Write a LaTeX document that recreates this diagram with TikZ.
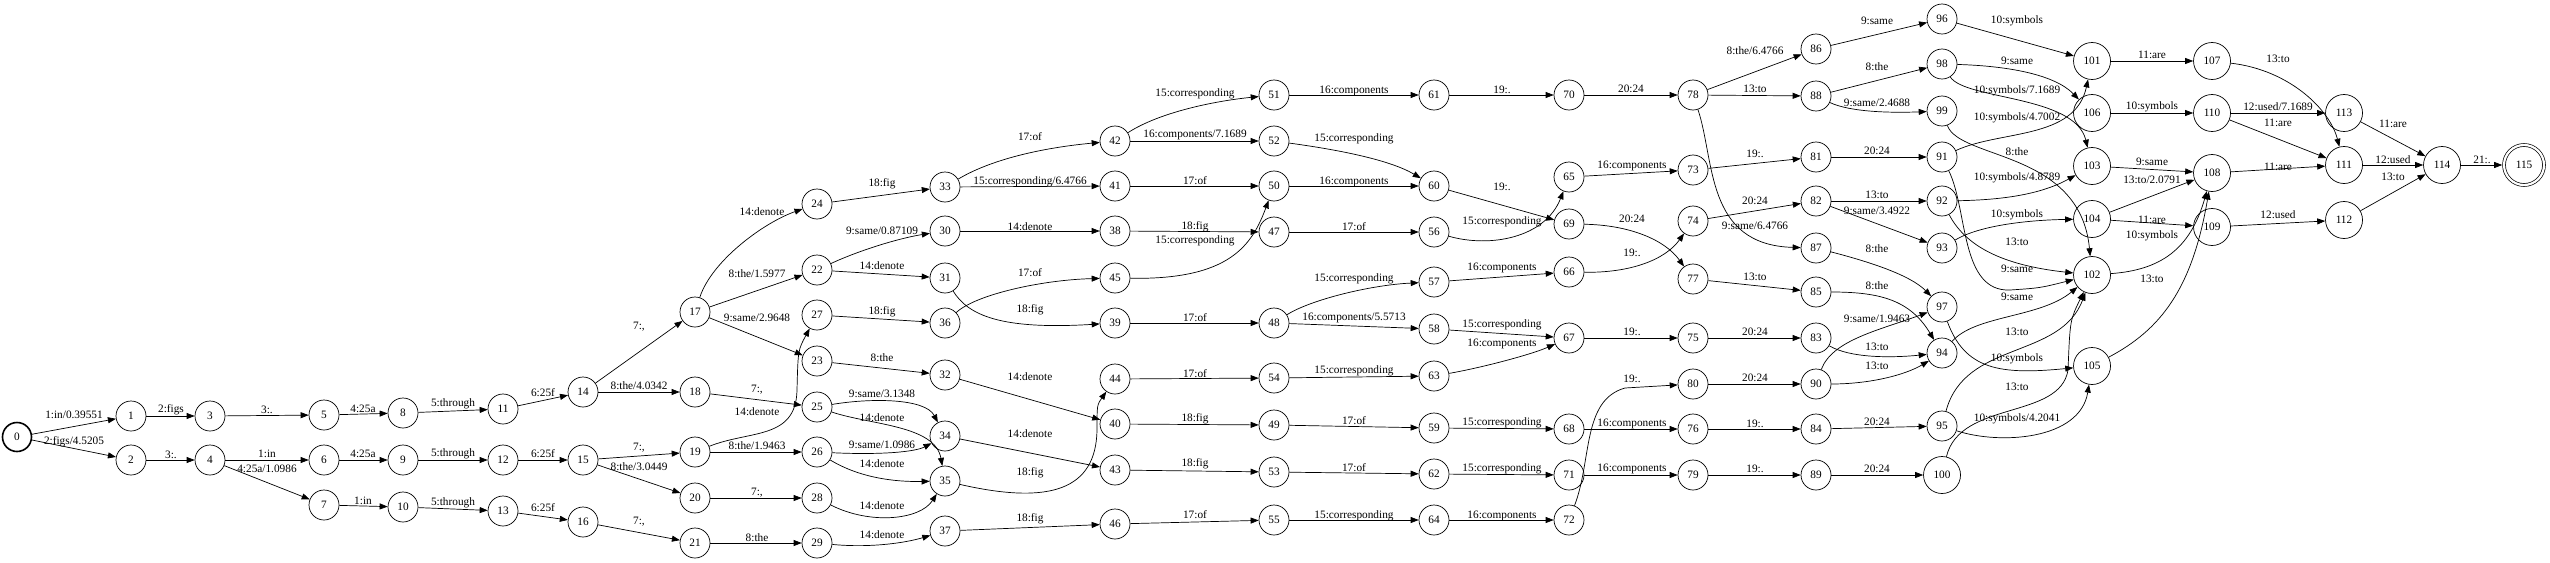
\documentclass[tikz,border=0pt]{standalone}
\usepackage{fontspec}
\setmainfont{Liberation Serif}
\usetikzlibrary{arrows.meta}

\begin{document}
\begin{tikzpicture}[x=1pt, y=-1pt,
  every node/.style={font=\fontsize{11.3}{13}\selectfont},
  state/.style={circle, draw, line width=0.7pt, minimum size=30pt, inner sep=0pt},
  big/.style={state, minimum size=37pt},
  start/.style={state, line width=1.6pt, minimum size=29pt},
  final/.style={state, minimum size=40pt, double, double distance=2.2pt, outer sep=1.8pt},
  lbl/.style={inner sep=0pt},
  arrow/.style={-{Triangle[length=8pt,width=6pt]}, line width=0.7pt}]

\useasboundingbox (0,0) rectangle (2550,562);

% Estados
\node[start] (n0) at (17,437) {0};
\node[state] (n1) at (131,416) {1};
\node[state] (n2) at (131,460) {2};
\node[state] (n3) at (210,416) {3};
\node[state] (n4) at (210,460) {4};
\node[state] (n5) at (324,415) {5};
\node[state] (n6) at (324,460) {6};
\node[state] (n7) at (324,505) {7};
\node[state] (n8) at (403,413) {8};
\node[state] (n9) at (403,460) {9};
\node[state] (n10) at (403,507) {10};
\node[state] (n11) at (503,409) {11};
\node[state] (n12) at (503,460) {12};
\node[state] (n13) at (503,511) {13};
\node[state] (n14) at (583,392) {14};
\node[state] (n15) at (583,460) {15};
\node[state] (n16) at (583,522) {16};
\node[state] (n17) at (695,312) {17};
\node[state] (n18) at (695,392) {18};
\node[state] (n19) at (695,452) {19};
\node[state] (n20) at (695,498) {20};
\node[state] (n21) at (695,543) {21};
\node[state] (n24) at (817,204) {24};
\node[state] (n22) at (817,270) {22};
\node[state] (n27) at (817,315) {27};
\node[state] (n23) at (817,361) {23};
\node[state] (n25) at (817,407) {25};
\node[state] (n26) at (817,452) {26};
\node[state] (n28) at (817,498) {28};
\node[state] (n29) at (817,543) {29};
\node[state] (n33) at (945,187) {33};
\node[state] (n30) at (945,231) {30};
\node[state] (n31) at (945,278) {31};
\node[state] (n36) at (945,323) {36};
\node[state] (n32) at (945,375) {32};
\node[state] (n34) at (945,436) {34};
\node[state] (n35) at (945,481) {35};
\node[state] (n37) at (945,531) {37};
\node[state] (n42) at (1115,141) {42};
\node[state] (n41) at (1115,186) {41};
\node[state] (n38) at (1115,231) {38};
\node[state] (n45) at (1115,278) {45};
\node[state] (n39) at (1115,323) {39};
\node[state] (n44) at (1115,379) {44};
\node[state] (n40) at (1115,424) {40};
\node[state] (n43) at (1115,470) {43};
\node[state] (n46) at (1115,524) {46};
\node[state] (n51) at (1274,95) {51};
\node[state] (n52) at (1274,141) {52};
\node[state] (n50) at (1274,186) {50};
\node[state] (n47) at (1274,232) {47};
\node[state] (n48) at (1274,323) {48};
\node[state] (n54) at (1274,378) {54};
\node[state] (n49) at (1274,425) {49};
\node[state] (n53) at (1274,472) {53};
\node[state] (n55) at (1274,520) {55};
\node[state] (n61) at (1434,95) {61};
\node[state] (n60) at (1434,186) {60};
\node[state] (n56) at (1434,232) {56};
\node[state] (n57) at (1434,282) {57};
\node[state] (n58) at (1434,329) {58};
\node[state] (n63) at (1434,376) {63};
\node[state] (n59) at (1434,428) {59};
\node[state] (n62) at (1434,474) {62};
\node[state] (n64) at (1434,520) {64};
\node[state] (n70) at (1569,95) {70};
\node[state] (n65) at (1569,177) {65};
\node[state] (n69) at (1569,224) {69};
\node[state] (n66) at (1569,272) {66};
\node[state] (n67) at (1569,338) {67};
\node[state] (n68) at (1569,429) {68};
\node[state] (n71) at (1569,475) {71};
\node[state] (n72) at (1569,520) {72};
\node[state] (n78) at (1693,95) {78};
\node[state] (n73) at (1693,170) {73};
\node[state] (n74) at (1693,221) {74};
\node[state] (n77) at (1693,279) {77};
\node[state] (n75) at (1693,338) {75};
\node[state] (n80) at (1693,384) {80};
\node[state] (n76) at (1693,429) {76};
\node[state] (n79) at (1693,475) {79};
\node[state] (n86) at (1816,49) {86};
\node[state] (n88) at (1816,96) {88};
\node[state] (n81) at (1816,157) {81};
\node[state] (n82) at (1816,201) {82};
\node[state] (n87) at (1816,248) {87};
\node[state] (n85) at (1816,292) {85};
\node[state] (n83) at (1816,338) {83};
\node[state] (n90) at (1816,384) {90};
\node[state] (n84) at (1816,429) {84};
\node[state] (n89) at (1816,475) {89};
\node[state] (n96) at (1942,19) {96};
\node[state] (n98) at (1942,64) {98};
\node[state] (n99) at (1942,111) {99};
\node[state] (n91) at (1942,157) {91};
\node[state] (n92) at (1942,201) {92};
\node[state] (n93) at (1942,248) {93};
\node[state] (n97) at (1942,307) {97};
\node[state] (n94) at (1942,353) {94};
\node[state] (n95) at (1942,426) {95};
\node[big] (n100) at (1942,475) {100};
\node[big] (n101) at (2092,61) {101};
\node[big] (n106) at (2092,113) {106};
\node[big] (n103) at (2092,166) {103};
\node[big] (n104) at (2092,219) {104};
\node[big] (n102) at (2092,275) {102};
\node[big] (n105) at (2092,366) {105};
\node[big] (n107) at (2212,61) {107};
\node[big] (n110) at (2212,113) {110};
\node[big] (n108) at (2212,173) {108};
\node[big] (n109) at (2212,227) {109};
\node[big] (n113) at (2344,113) {113};
\node[big] (n111) at (2344,165) {111};
\node[big] (n112) at (2344,220) {112};
\node[big] (n114) at (2442,165) {114};
\node[final] (n115) at (2524,165) {115};

% Arcos 0--21
\draw[arrow] (n0) -- (n1) node[lbl] at (74,415) {1:in/0.39551};
\draw[arrow] (n0) -- (n2) node[lbl] at (74,442) {2:figs/4.5205};
\draw[arrow] (n1) -- (n3) node[lbl] at (171,410) {2:figs};
\draw[arrow] (n2) -- (n4) node[lbl] at (171,455) {3:.};
\draw[arrow] (n3) -- (n5) node[lbl] at (267,410) {3:.};
\draw[arrow] (n4) -- (n6) node[lbl] at (267,454) {1:in};
\draw[arrow] (n4) -- (n7) node[lbl] at (267,469) {4:25a/1.0986};
\draw[arrow] (n5) -- (n8) node[lbl] at (363,409) {4:25a};
\draw[arrow] (n6) -- (n9) node[lbl] at (363,454) {4:25a};
\draw[arrow] (n7) -- (n10) node[lbl] at (363,501) {1:in};
\draw[arrow] (n8) -- (n11) node[lbl] at (453,404) {5:through};
\draw[arrow] (n9) -- (n12) node[lbl] at (453,454) {5:through};
\draw[arrow] (n10) -- (n13) node[lbl] at (453,503) {5:through};
\draw[arrow] (n11) -- (n14) node[lbl] at (543,393) {6:25f};
\draw[arrow] (n12) -- (n15) node[lbl] at (543,454) {6:25f};
\draw[arrow] (n13) -- (n16) node[lbl] at (543,508) {6:25f};
\draw[arrow] (n14) -- (n17) node[lbl] at (639,327) {7:,};
\draw[arrow] (n14) -- (n18) node[lbl] at (639,386) {8:the/4.0342};
\draw[arrow] (n15) -- (n19) node[lbl] at (639,448) {7:,};
\draw[arrow] (n15) -- (n20) node[lbl] at (639,467) {8:the/3.0449};
\draw[arrow] (n16) -- (n21) node[lbl] at (639,522) {7:,};

% Arcos 17--29
\draw[arrow] (n17) .. controls (712,260) and (765,222) .. (n24) node[lbl] at (762,212) {14:denote};
\draw[arrow] (n17) -- (n22) node[lbl] at (757,274) {8:the/1.5977};
\draw[arrow] (n17) -- (n23) node[lbl] at (757,318) {9:same/2.9648};
\draw[arrow] (n18) -- (n25) node[lbl] at (757,390) {7:,};
\draw[arrow] (n19) .. controls (750,430) and (796,440) .. (797,390) .. controls (798,350) .. (n27) node[lbl] at (757,412) {14:denote};
\draw[arrow] (n19) -- (n26) node[lbl] at (757,446) {8:the/1.9463};
\draw[arrow] (n20) -- (n28) node[lbl] at (757,493) {7:,};
\draw[arrow] (n21) -- (n29) node[lbl] at (757,538) {8:the};

% Arcos 22--37
\draw[arrow] (n24) -- (n33) node[lbl] at (882,184) {18:fig};
\draw[arrow] (n22) .. controls (860,250) and (900,238) .. (n30) node[lbl] at (882,231) {9:same/0.87109};
\draw[arrow] (n22) -- (n31) node[lbl] at (882,266) {14:denote};
\draw[arrow] (n27) -- (n36) node[lbl] at (882,312) {18:fig};
\draw[arrow] (n23) -- (n32) node[lbl] at (882,358) {8:the};
\draw[arrow] (n25) .. controls (870,398) and (925,398) .. (n34) node[lbl] at (882,394) {9:same/3.1348};
\draw[arrow] (n25) .. controls (870,425) and (935,425) .. (n35) node[lbl] at (882,418) {14:denote};
\draw[arrow] (n26) .. controls (880,455) and (915,452) .. (n34) node[lbl] at (882,445) {9:same/1.0986};
\draw[arrow] (n26) .. controls (860,478) and (895,482) .. (n35) node[lbl] at (882,464) {14:denote};
\draw[arrow] (n28) .. controls (870,525) and (920,520) .. (n35) node[lbl] at (882,506) {14:denote};
\draw[arrow] (n29) .. controls (870,548) and (905,543) .. (n37) node[lbl] at (882,535) {14:denote};

% Arcos 30--46
\draw[arrow] (n33) .. controls (990,160) and (1040,148) .. (n42) node[lbl] at (1030,137) {17:of};
\draw[arrow] (n33) -- (n41) node[lbl] at (1030,182) {15:corresponding/6.4766};
\draw[arrow] (n30) -- (n38) node[lbl] at (1030,227) {14:denote};
\draw[arrow] (n36) .. controls (975,295) and (1040,280) .. (n45) node[lbl] at (1030,273) {17:of};
\draw[arrow] (n31) .. controls (968,315) and (1000,330) .. (n39) node[lbl] at (1030,310) {18:fig};
\draw[arrow] (n32) -- (n40) node[lbl] at (1030,377) {14:denote};
\draw[arrow] (n34) -- (n43) node[lbl] at (1030,434) {14:denote};
\draw[arrow] (n35) .. controls (1050,505) and (1096,490) .. (1097,430) .. controls (1097,405) .. (n44) node[lbl] at (1030,473) {18:fig};
\draw[arrow] (n37) -- (n46) node[lbl] at (1030,519) {18:fig};

% Arcos 38--55
\draw[arrow] (n42) .. controls (1160,112) and (1215,101) .. (n51) node[lbl] at (1195,94) {15:corresponding};
\draw[arrow] (n42) -- (n52) node[lbl] at (1195,135) {16:components/7.1689};
\draw[arrow] (n41) -- (n50) node[lbl] at (1195,181) {17:of};
\draw[arrow] (n38) -- (n47) node[lbl] at (1195,227) {18:fig};
\draw[arrow] (n45) .. controls (1230,280) and (1252,245) .. (n50) node[lbl] at (1195,241) {15:corresponding};
\draw[arrow] (n39) -- (n48) node[lbl] at (1195,318) {17:of};
\draw[arrow] (n44) -- (n54) node[lbl] at (1195,374) {17:of};
\draw[arrow] (n40) -- (n49) node[lbl] at (1195,419) {18:fig};
\draw[arrow] (n43) -- (n53) node[lbl] at (1195,464) {18:fig};
\draw[arrow] (n46) -- (n55) node[lbl] at (1195,515) {17:of};

% Arcos 47--64
\draw[arrow] (n51) -- (n61) node[lbl] at (1354,91) {16:components};
\draw[arrow] (n52) .. controls (1340,150) and (1390,160) .. (n60) node[lbl] at (1354,139) {15:corresponding};
\draw[arrow] (n50) -- (n60) node[lbl] at (1354,182) {16:components};
\draw[arrow] (n47) -- (n56) node[lbl] at (1354,227) {17:of};
\draw[arrow] (n48) .. controls (1310,300) and (1370,285) .. (n57) node[lbl] at (1354,279) {15:corresponding};
\draw[arrow] (n48) -- (n58) node[lbl] at (1354,318) {16:components/5.5713};
\draw[arrow] (n54) -- (n63) node[lbl] at (1354,371) {15:corresponding};
\draw[arrow] (n49) -- (n59) node[lbl] at (1354,421) {17:of};
\draw[arrow] (n53) -- (n62) node[lbl] at (1354,468) {17:of};
\draw[arrow] (n55) -- (n64) node[lbl] at (1354,516) {15:corresponding};

% Arcos 56--72
\draw[arrow] (n61) -- (n70) node[lbl] at (1502,90) {19:.};
\draw[arrow] (n60) -- (n69) node[lbl] at (1502,187) {19:.};
\draw[arrow] (n56) .. controls (1490,248) and (1545,238) .. (n65) node[lbl] at (1502,222) {15:corresponding};
\draw[arrow] (n57) -- (n66) node[lbl] at (1502,268) {16:components};
\draw[arrow] (n58) -- (n67) node[lbl] at (1502,325) {15:corresponding};
\draw[arrow] (n63) .. controls (1480,368) and (1530,355) .. (n67) node[lbl] at (1502,344) {16:components};
\draw[arrow] (n59) -- (n68) node[lbl] at (1502,423) {15:corresponding};
\draw[arrow] (n62) -- (n71) node[lbl] at (1502,469) {15:corresponding};
\draw[arrow] (n64) -- (n72) node[lbl] at (1502,516) {16:components};

% Arcos 65--80
\draw[arrow] (n70) -- (n78) node[lbl] at (1631,89) {20:24};
\draw[arrow] (n65) -- (n73) node[lbl] at (1632,166) {16:components};
\draw[arrow] (n69) .. controls (1630,225) and (1665,240) .. (n77) node[lbl] at (1632,219) {20:24};
\draw[arrow] (n66) .. controls (1630,273) and (1665,260) .. (n74) node[lbl] at (1632,253) {19:.};
\draw[arrow] (n67) -- (n75) node[lbl] at (1632,332) {19:.};
\draw[arrow] (n72) .. controls (1592,460) and (1582,400) .. (1625,388) -- (n80) node[lbl] at (1632,379) {19:.};
\draw[arrow] (n68) -- (n76) node[lbl] at (1632,424) {16:components};
\draw[arrow] (n71) -- (n79) node[lbl] at (1632,469) {16:components};

% Arcos 73--90
\draw[arrow] (n78) -- (n86) node[lbl] at (1755,51) {8:the/6.4766};
\draw[arrow] (n78) -- (n88) node[lbl] at (1755,89) {13:to};
\draw[arrow] (n78) .. controls (1715,160) and (1705,245) .. (n87) node[lbl] at (1755,226) {9:same/6.4766};
\draw[arrow] (n73) -- (n81) node[lbl] at (1755,154) {19:.};
\draw[arrow] (n74) -- (n82) node[lbl] at (1755,201) {20:24};
\draw[arrow] (n77) -- (n85) node[lbl] at (1755,277) {13:to};
\draw[arrow] (n75) -- (n83) node[lbl] at (1755,332) {20:24};
\draw[arrow] (n80) -- (n90) node[lbl] at (1755,378) {20:24};
\draw[arrow] (n76) -- (n84) node[lbl] at (1755,424) {19:.};
\draw[arrow] (n79) -- (n89) node[lbl] at (1755,469) {19:.};

% Arcos 81--100
\draw[arrow] (n86) -- (n96) node[lbl] at (1877,21) {9:same};
\draw[arrow] (n88) -- (n98) node[lbl] at (1877,67) {8:the};
\draw[arrow] (n88) .. controls (1850,112) and (1890,113) .. (n99) node[lbl] at (1877,103) {9:same/2.4688};
\draw[arrow] (n81) -- (n91) node[lbl] at (1877,151) {20:24};
\draw[arrow] (n82) -- (n92) node[lbl] at (1877,195) {13:to};
\draw[arrow] (n82) -- (n93) node[lbl] at (1877,211) {9:same/3.4922};
\draw[arrow] (n87) .. controls (1870,262) and (1910,275) .. (n97) node[lbl] at (1877,249) {8:the};
\draw[arrow] (n85) .. controls (1880,292) and (1910,300) .. (n94) node[lbl] at (1877,286) {8:the};
\draw[arrow] (n90) .. controls (1832,340) and (1880,330) .. (n97) node[lbl] at (1877,319) {9:same/1.9463};
\draw[arrow] (n83) .. controls (1850,358) and (1890,358) .. (n94) node[lbl] at (1877,347) {13:to};
\draw[arrow] (n90) .. controls (1870,384) and (1905,375) .. (n94) node[lbl] at (1877,366) {13:to};
\draw[arrow] (n84) -- (n95) node[lbl] at (1877,422) {20:24};
\draw[arrow] (n89) -- (n100) node[lbl] at (1877,469) {20:24};

% Arcos 91--106
\draw[arrow] (n96) -- (n101) node[lbl] at (2017,21) {10:symbols};
\draw[arrow] (n98) .. controls (2010,66) and (2055,75) .. (n106) node[lbl] at (2017,61) {9:same};
\draw[arrow] (n98) .. controls (1965,100) and (2075,95) .. (n103) node[lbl] at (2017,91) {10:symbols/7.1689};
\draw[arrow] (n91) .. controls (2000,130) and (2075,140) .. (n101) node[lbl] at (2017,118) {10:symbols/4.7002};
\draw[arrow] (n99) .. controls (1960,160) and (2080,150) .. (n102) node[lbl] at (2017,152) {8:the};
\draw[arrow] (n92) .. controls (2000,200) and (2040,195) .. (n103) node[lbl] at (2017,178) {10:symbols/4.8789};
\draw[arrow] (n93) .. controls (1980,225) and (2030,220) .. (n104) node[lbl] at (2017,215) {10:symbols};
\draw[arrow] (n92) .. controls (1965,245) and (2000,265) .. (n102) node[lbl] at (2017,242) {13:to};
\draw[arrow] (n91) .. controls (1968,210) and (1960,292) .. (2010,290) .. controls (2040,288) .. (n102) node[lbl] at (2017,269) {9:same};
\draw[arrow] (n94) .. controls (1975,315) and (2040,318) .. (n102) node[lbl] at (2017,297) {9:same};
\draw[arrow] (n95) .. controls (1965,340) and (2060,360) .. (n102) node[lbl] at (2017,332) {13:to};
\draw[arrow] (n97) .. controls (1965,370) and (2000,375) .. (n105) node[lbl] at (2017,359) {10:symbols};
\draw[arrow] (n100) .. controls (1960,400) and (2060,420) .. (2068,370) .. controls (2070,320) .. (n102) node[lbl] at (2017,387) {13:to};
\draw[arrow] (n95) .. controls (2000,445) and (2080,440) .. (n105) node[lbl] at (2017,419) {10:symbols/4.2041};

% Arcos 101--115
\draw[arrow] (n101) -- (n107) node[lbl] at (2152,55) {11:are};
\draw[arrow] (n106) -- (n110) node[lbl] at (2152,107) {10:symbols};
\draw[arrow] (n103) -- (n108) node[lbl] at (2152,162) {9:same};
\draw[arrow] (n104) -- (n108) node[lbl] at (2152,180) {13:to/2.0791};
\draw[arrow] (n104) -- (n109) node[lbl] at (2152,220) {11:are};
\draw[arrow] (n102) .. controls (2160,270) and (2190,250) .. (n108) node[lbl] at (2152,236) {10:symbols};
\draw[arrow] (n105) .. controls (2160,330) and (2192,290) .. (n108) node[lbl] at (2152,279) {13:to};
\draw[arrow] (n107) .. controls (2290,70) and (2330,110) .. (n111) node[lbl] at (2278,59) {13:to};
\draw[arrow] (n110) -- (n113) node[lbl] at (2278,107) {12:used/7.1689};
\draw[arrow] (n110) -- (n111) node[lbl] at (2278,123) {11:are};
\draw[arrow] (n108) -- (n111) node[lbl] at (2278,167) {11:are};
\draw[arrow] (n109) -- (n112) node[lbl] at (2278,215) {12:used};
\draw[arrow] (n113) -- (n114) node[lbl] at (2393,124) {11:are};
\draw[arrow] (n111) -- (n114) node[lbl] at (2393,160) {12:used};
\draw[arrow] (n112) -- (n114) node[lbl] at (2393,177) {13:to};
\draw[arrow] (n114) -- (n115) node[lbl] at (2482,160) {21:.};

\end{tikzpicture}
\end{document}
